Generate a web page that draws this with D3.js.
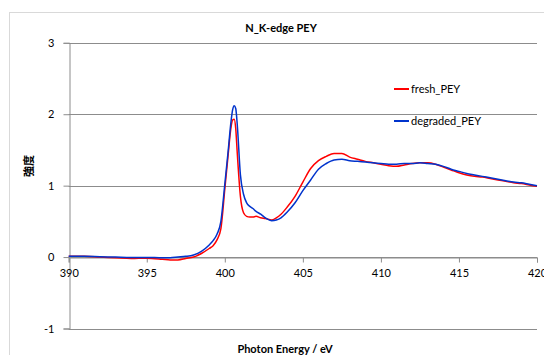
<!DOCTYPE html>
<html>
<head>
<meta charset="utf-8">
<script src="https://cdn.jsdelivr.net/npm/d3@7"></script>
<style>
  body { margin: 0; background: #fff; }
</style>
</head>
<body>
<div class="chart-container"></div>
<script>
// photon energy (eV), shared by both series
const energy = [390, 391, 392, 393, 394, 395, 396, 396.5, 397, 397.5, 398, 398.5, 399, 399.25, 399.5, 399.75,
  400, 400.2, 400.4, 400.5, 400.6, 400.7, 400.8, 401, 401.2, 401.4, 401.6, 401.8, 402, 402.3, 402.6,
  403, 403.3, 403.6, 404, 404.5, 405, 405.5, 406, 406.5, 407, 407.5, 408, 408.5, 409, 409.5, 410, 410.5,
  411, 411.5, 412, 412.5, 413, 413.5, 414, 414.5, 415, 415.5, 416, 416.5, 417, 417.5, 418, 418.5,
  419, 419.5, 420];

const freshPEY = [0.01, 0.01, 0.0, -0.01, -0.02, -0.015, -0.03, -0.04, -0.04, -0.02, 0.0, 0.05, 0.12, 0.16, 0.24, 0.4,
  0.95, 1.4, 1.82, 1.92, 1.93, 1.8, 1.45, 0.85, 0.62, 0.57, 0.56, 0.56, 0.57, 0.55, 0.54,
  0.52, 0.55, 0.6, 0.7, 0.85, 1.05, 1.24, 1.35, 1.41, 1.45, 1.45, 1.4, 1.37, 1.34, 1.32, 1.3, 1.28,
  1.27, 1.29, 1.31, 1.32, 1.32, 1.3, 1.26, 1.22, 1.18, 1.15, 1.13, 1.12, 1.1, 1.08, 1.06, 1.04,
  1.03, 1.01, 0.99];

const degradedPEY = [0.01, 0.01, 0.005, 0.0, -0.005, -0.005, -0.01, -0.01, 0.0, 0.01, 0.03, 0.08, 0.17, 0.23, 0.32, 0.5,
  1.02, 1.45, 1.9, 2.06, 2.12, 2.08, 1.85, 1.15, 0.88, 0.76, 0.71, 0.68, 0.64, 0.6, 0.55,
  0.51, 0.52, 0.55, 0.63, 0.76, 0.93, 1.08, 1.23, 1.31, 1.36, 1.37, 1.35, 1.34, 1.33, 1.32, 1.31, 1.3,
  1.3, 1.31, 1.31, 1.32, 1.31, 1.3, 1.27, 1.23, 1.2, 1.17, 1.15, 1.13, 1.11, 1.09, 1.07, 1.05,
  1.04, 1.02, 1.0];

const xTicks = [390, 395, 400, 405, 410, 415, 420];
const yTicks = [-1, 0, 1, 2, 3];

const seriesNames = ["fresh_PEY", "degraded_PEY"];
const seriesColors = ["#ff0000", "#0033cc"];

const font = "Lato, 'Open Sans', sans-serif";
const gridColor = "#8c8c8c";

const svg = d3.select(".chart-container")
  .append("svg")
  .attr("width", 544)
  .attr("height", 355);

// outer chart frame
svg.append("rect")
  .attr("x", 9.5)
  .attr("y", 12.5)
  .attr("width", 560)
  .attr("height", 360)
  .attr("fill", "#fff")
  .attr("stroke", "#d9d9d9");

const xScale = d3.scaleLinear()
  .domain([390, 420])
  .range([68.7, 537]);

const yScale = d3.scaleLinear()
  .domain([-1, 3])
  .range([328.5, 42.8]);

// horizontal gridlines
svg.append("g")
  .selectAll("line")
  .data(yTicks)
  .join("line")
    .attr("x1", xScale(390))
    .attr("x2", xScale(420))
    .attr("y1", d => Math.round(yScale(d)) + 0.5)
    .attr("y2", d => Math.round(yScale(d)) + 0.5)
    .attr("stroke", gridColor)
    .attr("stroke-width", 1);

// plain hyphen for negatives, like the original
const plain = d => String(d);

// y axis
const yAxis = svg.append("g")
  .attr("transform", `translate(${Math.round(xScale(390)) + 0.5},0)`)
  .call(d3.axisLeft(yScale).tickValues(yTicks).tickSize(6).tickPadding(9).tickFormat(plain));

// x axis at y = 0
const xAxis = svg.append("g")
  .attr("transform", `translate(0,${Math.round(yScale(0)) + 0.5})`)
  .call(d3.axisBottom(xScale).tickValues(xTicks).tickSize(5).tickPadding(7).tickFormat(plain));

[yAxis, xAxis].forEach(ax => {
  ax.select(".domain").attr("stroke", gridColor);
  ax.selectAll(".tick line").attr("stroke", gridColor);
  ax.selectAll(".tick text")
    .attr("fill", "#000")
    .attr("font-size", "11px")
    .attr("font-family", font);
});

// series lines
const line = d3.line()
  .x((d, i) => xScale(energy[i]))
  .y(d => yScale(d))
  .curve(d3.curveMonotoneX);

[freshPEY, degradedPEY].forEach((vals, k) => {
  svg.append("path")
    .datum(vals)
    .attr("d", line)
    .attr("fill", "none")
    .attr("stroke", seriesColors[k])
    .attr("stroke-width", 1.5)
    .attr("stroke-linejoin", "round");
});

// legend
const legendY = [89, 121];
seriesNames.forEach((name, k) => {
  svg.append("line")
    .attr("x1", 394)
    .attr("x2", 409)
    .attr("y1", legendY[k])
    .attr("y2", legendY[k])
    .attr("stroke", seriesColors[k])
    .attr("stroke-width", 2);
  svg.append("text")
    .text(name)
    .attr("x", 411)
    .attr("y", legendY[k] + 4)
    .attr("font-size", "11px")
    .attr("font-family", font)
    .attr("fill", "#000");
});

// titles
svg.append("text")
  .text("N_K-edge PEY")
  .attr("x", 281)
  .attr("y", 32)
  .attr("text-anchor", "middle")
  .attr("font-size", "11px")
  .attr("font-weight", "bold")
  .attr("font-family", font);

svg.append("text")
  .text("Photon Energy / eV")
  .attr("x", 285)
  .attr("y", 353)
  .attr("text-anchor", "middle")
  .attr("font-size", "11px")
  .attr("font-weight", "bold")
  .attr("font-family", font);

svg.append("text")
  .text("強度")
  .attr("transform", "translate(33,166) rotate(-90)")
  .attr("text-anchor", "middle")
  .attr("font-size", "11px")
  .attr("font-weight", "bold")
  .attr("font-family", "'Noto Sans CJK JP', sans-serif");
</script>
</body>
</html>
